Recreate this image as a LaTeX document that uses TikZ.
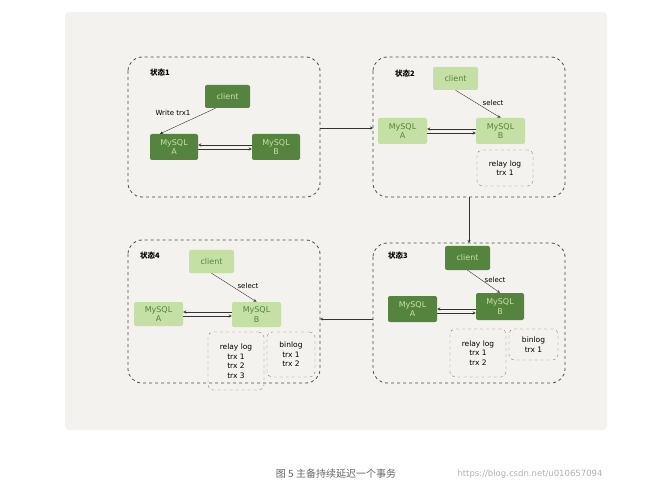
\documentclass[tikz,border=0pt]{standalone}
\usepackage{fontspec}
\setmainfont{DejaVu Sans}
\newfontfamily\cjk{Noto Sans CJK SC}
\begin{document}
\definecolor{dk}{HTML}{55843F}
\definecolor{lt}{HTML}{C5E0A5}
\definecolor{bg}{HTML}{F3F2EE}
\begin{tikzpicture}[x=1pt,y=-1pt,
 state/.style={draw=black!70,dashed,rounded corners=14pt,thick},
 logb/.style={draw=black!50,dashed,rounded corners=5pt,align=center,font=\fontsize{7.5}{9.5}\selectfont},
 dkn/.style={fill=dk,rounded corners=2pt,text=lt,align=center,font=\fontsize{8}{9.5}\selectfont,inner sep=0},
 ltn/.style={fill=lt,rounded corners=2pt,text=dk,align=center,font=\fontsize{8}{9.5}\selectfont,inner sep=0},
 lbl/.style={font=\fontsize{7}{8}\selectfont},
 ttl/.style={font=\cjk\bfseries\fontsize{7.5}{8}\selectfont},
 arr/.style={->,>=stealth,black!80}]
\useasboundingbox (0,0) rectangle (662,492);
\fill[bg,rounded corners=4pt] (65,12) rectangle (607,430);
% state 1
\draw[state] (128,57) rectangle (320,197);
\node[ttl] (t1) at (160,73) {状态1};
\node[dkn,minimum width=45pt,minimum height=23pt] (c1) at (227.5,96.5) {client};
\node[dkn,minimum width=48pt,minimum height=26pt] (a1) at (174,147) {MySQL\\A};
\node[dkn,minimum width=48pt,minimum height=26pt] (b1) at (276,147) {MySQL\\B};
\node[lbl] (w1) at (173,113) {Write trx1};
\draw[arr] ([xshift=-12pt]c1.south) -- ([xshift=-14pt]a1.north);
\draw[arr] ([yshift=-2]a1.east) -- ([yshift=-2]b1.west);
\draw[arr] ([yshift=2]b1.west) -- ([yshift=2]a1.east);
% state 2
\draw[state] (373,57) rectangle (565,197);
\node[ttl] (t2) at (405,74) {状态2};
\node[ltn,minimum width=45pt,minimum height=23pt] (c2) at (455.5,78.5) {client};
\node[ltn,minimum width=49pt,minimum height=26pt] (a2) at (402.5,131) {MySQL\\A};
\node[ltn,minimum width=49pt,minimum height=26pt] (b2) at (500.5,131) {MySQL\\B};
\node[lbl] (s2) at (493,103) {select};
\draw[arr] (c2.south) -- (b2.north);
\draw[arr] ([yshift=-2]a2.east) -- ([yshift=-2]b2.west);
\draw[arr] ([yshift=2]b2.west) -- ([yshift=2]a2.east);
\node[logb,minimum width=56pt,minimum height=36pt] (r2) at (505,168) {relay log\\trx 1};
% state 3
\draw[state] (373,243) rectangle (565,383);
\node[ttl] (t3) at (398,256) {状态3};
\node[dkn,minimum width=45pt,minimum height=24pt] (c3) at (467.5,258) {client};
\node[dkn,minimum width=49pt,minimum height=26pt] (a3) at (412.5,309) {MySQL\\A};
\node[dkn,minimum width=48pt,minimum height=27pt] (b3) at (500,306.5) {MySQL\\B};
\node[lbl] (s3) at (495,280) {select};
\draw[arr] (c3.south) -- (b3.north);
\draw[arr] ([yshift=-4]a3.east) -- ([yshift=-4]a3.east -| b3.west);
\draw[arr] ([yshift=0]a3.east -| b3.west) -- ([yshift=0]a3.east);
\node[logb,minimum width=56pt,minimum height=48pt] (r3) at (478,353) {relay log\\trx 1\\trx 2};
\node[logb,minimum width=49pt,minimum height=31pt] (g3) at (533.5,344.5) {binlog\\trx 1};
% state 4
\draw[state] (128,240) rectangle (320,383);
\node[ttl] (t4) at (150,256) {状态4};
\node[ltn,minimum width=45pt,minimum height=23pt] (c4) at (211.5,261.5) {client};
\node[ltn,minimum width=49pt,minimum height=24pt] (a4) at (158.5,314) {MySQL\\A};
\node[ltn,minimum width=49pt,minimum height=25pt] (b4) at (256.5,314.5) {MySQL\\B};
\node[lbl] (s4) at (248,286) {select};
\draw[arr] (c4.south) -- (b4.north);
\draw[arr] ([yshift=-2]a4.east) -- ([yshift=-2]a4.east -| b4.west);
\draw[arr] ([yshift=2]a4.east -| b4.west) -- ([yshift=2]a4.east);
\node[logb,minimum width=56pt,minimum height=58pt] (r4) at (236,361) {relay log\\trx 1\\trx 2\\trx 3};
\node[logb,minimum width=48pt,minimum height=45pt] (g4) at (291,354.5) {binlog\\trx 1\\trx 2};
% transitions
\coordinate (p1) at (320,128); \coordinate (p2) at (373,128);
\draw[arr] (p1) -- (p2);
\coordinate (p3) at (469,197); \coordinate (p4) at (469,243);
\draw[arr] (p3) -- (p4);
\coordinate (p5) at (373,319); \coordinate (p6) at (320,319);
\draw[arr] (p5) -- (p6);
\node[font=\cjk\fontsize{10}{12}\selectfont,text=black!60] (cap) at (336,474) {图 5 主备持续延迟一个事务};
\node[font=\fontsize{8.5}{10}\selectfont,text=black!30] (wm) at (530,474) {https://blog.csdn.net/u010657094};
\end{tikzpicture}
\end{document}
